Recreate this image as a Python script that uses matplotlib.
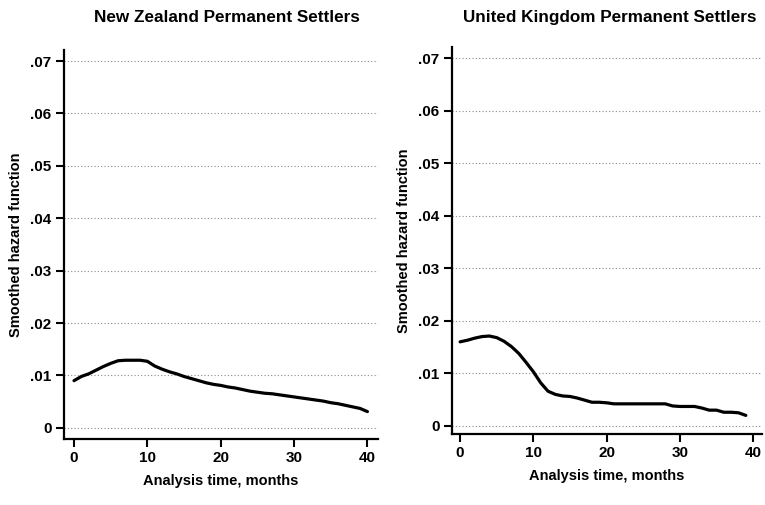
import matplotlib
matplotlib.use("Agg")
import matplotlib.pyplot as plt

plt.rcParams['font.family'] = ['Liberation Sans', 'DejaVu Sans']

# months and smoothed hazard
nz_months = list(range(0, 41))
nz_hazard = [.0090, .0098, .0103, .0110, .0117, .0123, .0128, .0129, .0129, .0129,
             .0127, .0118, .0112, .0107, .0103, .0098, .0094, .0090, .0086, .0083,
             .0081, .0078, .0076, .0073, .0070, .0068, .0066, .0065, .0063, .0061,
             .0059, .0057, .0055, .0053, .0051, .0048, .0046, .0043, .0040, .0037,
             .0031]

uk_months = list(range(0, 40))
uk_hazard = [.0160, .0163, .0167, .0170, .0171, .0168, .0161, .0151, .0138, .0121,
             .0103, .0082, .0066, .0060, .0057, .0056, .0053, .0049, .0045, .0045,
             .0044, .0042, .0042, .0042, .0042, .0042, .0042, .0042, .0042, .0038,
             .0037, .0037, .0037, .0034, .0030, .0030, .0026, .0026, .0025, .0020]

yticks = [0, .01, .02, .03, .04, .05, .06, .07]
ytick_labels = ['0', '.01', '.02', '.03', '.04', '.05', '.06', '.07']
xticks = [0, 10, 20, 30, 40]
titles = ['New Zealand Permanent Settlers', 'United Kingdom Permanent Settlers']

fig = plt.figure(figsize=(7.65, 5.05), dpi=100)
ax1 = fig.add_axes([0.0837, 0.131, 0.410, 0.770])
ax2 = fig.add_axes([0.591, 0.141, 0.405, 0.766])

panels = [(ax1, nz_months, nz_hazard, (-1.36, 41.4), (-0.0021, 0.0721), 0.297),
          (ax2, uk_months, uk_hazard, (-1.09, 41.2), (-0.0015, 0.0721), 0.797)]

for i, (ax, t, h, xl, yl, tx) in enumerate(panels):
    for y in yticks:
        ax.axhline(y, color='#8a8a8a', lw=0.8, ls=(0, (1, 2)), zorder=1)
    ax.plot(t, h, color='black', lw=2.3, solid_capstyle='round', zorder=3)
    ax.set_xlim(*xl)
    ax.set_ylim(*yl)
    ax.set_yticks(yticks)
    ax.set_yticklabels(ytick_labels)
    ax.set_xticks(xticks)
    ax.spines['top'].set_visible(False)
    ax.spines['right'].set_visible(False)
    ax.spines['left'].set_linewidth(1.6)
    ax.spines['bottom'].set_linewidth(1.6)
    ax.tick_params(direction='out', length=6, width=1.5, labelsize=11, pad=3)
    for lab in ax.get_xticklabels() + ax.get_yticklabels():
        lab.set_fontweight('bold')
    ax.set_xlabel('Analysis time, months', fontsize=10.5, fontweight='bold', labelpad=6)
    ax.set_ylabel('Smoothed hazard function', fontsize=10.5, fontweight='bold', labelpad=5)
    fig.text(tx, 0.965, titles[i], fontsize=12.3, fontweight='bold',
             ha='center', va='center')

fig.savefig('out.png', dpi=100)
